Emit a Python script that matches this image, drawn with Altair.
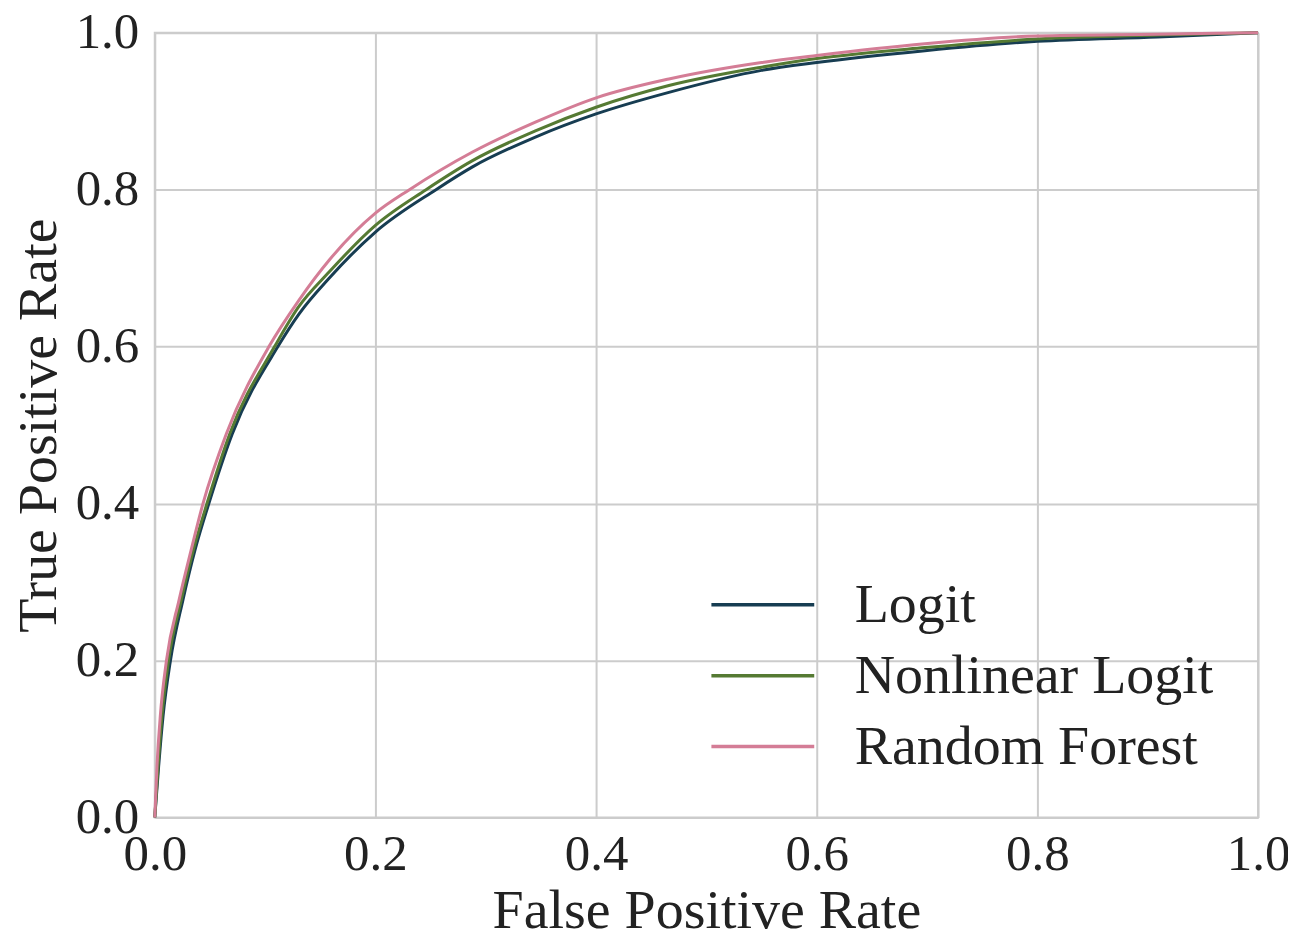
import altair as alt
import pandas as pd

models = ["Logit", "Nonlinear Logit", "Random Forest"]
colors = ["#173d52", "#557a33", "#d47d96"]

logit_fpr = [0, 0.0035, 0.0075, 0.0142, 0.0255, 0.0365, 0.049, 0.0703, 0.1116, 0.131, 0.158, 0.2, 0.2549, 0.288, 0.345, 0.4, 0.466, 0.55, 0.6, 0.698, 0.8, 0.909, 1.0]
logit_tpr = [0, 0.065, 0.129, 0.2, 0.277, 0.341, 0.4, 0.489, 0.6, 0.642, 0.687, 0.746, 0.8, 0.829, 0.867, 0.8965, 0.924, 0.952, 0.962, 0.977, 0.989, 0.9945, 1.0]

nl_fpr = [0, 0.003, 0.0065, 0.0125, 0.024, 0.035, 0.0473, 0.068, 0.1086, 0.13, 0.158, 0.2, 0.2459, 0.288, 0.345, 0.4, 0.466, 0.55, 0.6, 0.698, 0.8, 0.909, 1.0]
nl_tpr = [0, 0.065, 0.129, 0.2, 0.277, 0.341, 0.4, 0.489, 0.6, 0.65, 0.695, 0.7545, 0.8, 0.837, 0.875, 0.905, 0.9326, 0.956, 0.967, 0.981, 0.992, 0.997, 1.0]

rf_fpr = [0, 0.002, 0.005, 0.0106, 0.022, 0.033, 0.0437, 0.0649, 0.1035, 0.1306, 0.158, 0.2, 0.2308, 0.288, 0.345, 0.4, 0.466, 0.55, 0.6, 0.698, 0.8, 0.909, 1.0]
rf_tpr = [0, 0.065, 0.129, 0.2, 0.277, 0.341, 0.4, 0.489, 0.6, 0.659, 0.710, 0.770, 0.8, 0.848, 0.886, 0.917, 0.941, 0.962, 0.971, 0.986, 0.9958, 0.998, 1.0]

rows = []
for name, xs, ys in [(models[0], logit_fpr, logit_tpr), (models[1], nl_fpr, nl_tpr), (models[2], rf_fpr, rf_tpr)]:
    for i, (a, b) in enumerate(zip(xs, ys)):
        rows.append({"model": name, "fpr": a, "tpr": b, "i": i})
df = pd.DataFrame(rows)

FONT = "Liberation Serif"
LFS = 51
TFS = 56

chart = alt.Chart(df).mark_line(strokeWidth=3, interpolate="monotone").encode(
    x=alt.X("fpr:Q", title="False Positive Rate", scale=alt.Scale(domain=[0, 1], nice=False),
            axis=alt.Axis(values=[0, 0.2, 0.4, 0.6, 0.8, 1.0], format=".1f")),
    y=alt.Y("tpr:Q", title="True Positive Rate", scale=alt.Scale(domain=[0, 1], nice=False),
            axis=alt.Axis(values=[0, 0.2, 0.4, 0.6, 0.8, 1.0], format=".1f")),
    color=alt.Color("model:N", scale=alt.Scale(domain=models, range=colors),
                    legend=alt.Legend(title=None, orient="none", legendX=581, legendY=545,
                                      symbolType="M-2,0H2", symbolSize=2652, symbolStrokeWidth=3.5,
                                      symbolFillColor="transparent",
                                      labelFont=FONT, labelFontSize=TFS, labelColor="#222222",
                                      labelLimit=0, labelOffset=64, rowPadding=15, padding=0)),
    order="i:Q",
).properties(
    width=1105, height=786,
    autosize=alt.AutoSizeParams(type="none"),
    padding={"left": 147, "top": 24, "right": 30, "bottom": 113},
).configure_view(
    stroke="#cccccc", strokeWidth=2
).configure_axis(
    grid=True, gridColor="#cccccc", gridWidth=2, domain=False, ticks=False,
    labelFont=FONT, labelFontSize=LFS, labelColor="#222222", labelPadding=12, labelFlush=False,
    titleFont=FONT, titleFontSize=TFS, titleColor="#222222", titleFontWeight="normal",
).configure_axisX(titlePadding=4).configure_axisY(labelPadding=16, titlePadding=8)

chart.save("out.html", embed_options={"renderer": "svg", "actions": False})
